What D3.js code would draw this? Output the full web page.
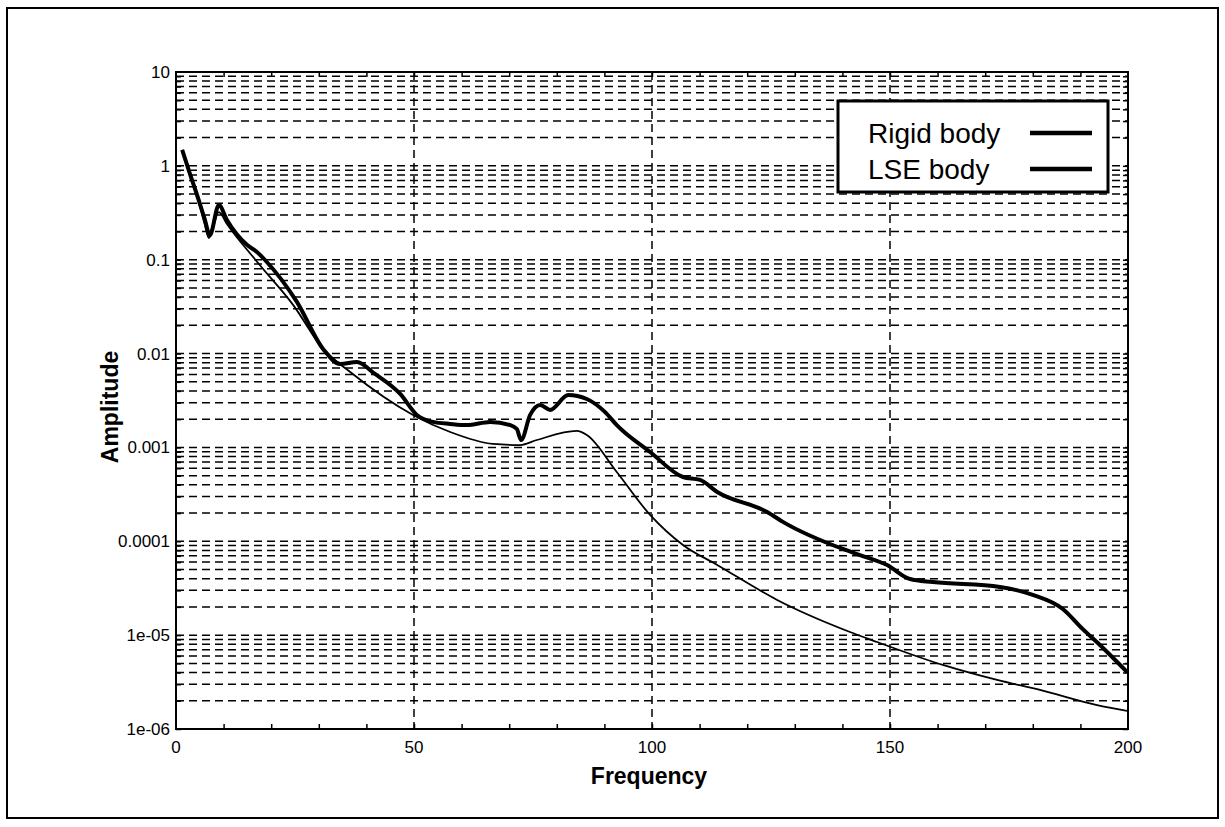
<!DOCTYPE html>
<html>
<head>
<meta charset="utf-8">
<script src="https://cdn.jsdelivr.net/npm/d3@7"></script>
<style>
  body { margin: 0; background: #fff; }
  text { font-family: "Liberation Sans", Arial, sans-serif; fill: #000; }
  .grid { stroke: #000; stroke-width: 1.5; stroke-dasharray: 8,5; fill: none; }
  .frame { stroke: #000; stroke-width: 2; fill: none; }
</style>
</head>
<body>
<script>
// Data (frequency, amplitude)
var lseFreq = [1.3, 3.0, 4.2, 6.0, 7.1, 9.0, 10.7, 14.9, 17.0, 18.7, 25.4, 30.9, 34.5, 38.0, 41.8, 47.1, 50.6, 54.0,
  57.6, 61.1, 66.0, 70.2, 71.6, 72.5, 74.4, 76.5, 78.6, 82.4, 86.3, 90.1, 92.6, 99.6, 106.5, 110.1, 113.7,
  124.2, 127.5, 140.1, 143.7, 149.4, 154.2, 159.0, 173.1, 180.0, 186.3, 190.5, 194.1, 199.8];
var lseAmp = [1.48, 0.80, 0.53, 0.274, 0.183, 0.383, 0.265, 0.144, 0.121, 0.0993, 0.0355, 0.0112, 0.00774, 0.00813,
  0.00606, 0.00371, 0.00222, 0.00187, 0.00178, 0.00173, 0.00187, 0.00173, 0.00157, 0.0012, 0.00222, 0.00283, 0.00251,
  0.00362, 0.00328, 0.00239, 0.00173, 0.000894, 0.000484, 0.00045, 0.000335, 0.000205, 0.000161, 8.28e-5,
  7.14e-5, 5.58e-5, 3.96e-5, 3.68e-5, 3.26e-5, 2.68e-5, 1.90e-5, 1.16e-5, 7.85e-6, 4.05e-6];

var rigidFreq = [1.3, 3.0, 4.2, 6.0, 6.9, 9.0, 10.7, 17.6, 24.6, 30.9, 36.6, 49.8, 57.6, 66.6, 72.3, 75.8, 84.2, 86.3,
  92.6, 99.6, 106.5, 113.7, 126.3, 141.6, 147.3, 161.1, 172.5, 181.5, 193.5, 199.8];
var rigidAmp = [1.48, 0.80, 0.53, 0.242, 0.170, 0.322, 0.240, 0.0879, 0.033, 0.0112, 0.00637, 0.00222, 0.00146,
  0.00109, 0.00106, 0.0012, 0.0015, 0.00136, 0.000547, 0.000191, 9.14e-5, 5.6e-5, 2.37e-5, 1.08e-5, 8.45e-6,
  4.81e-6, 3.33e-6, 2.61e-6, 1.80e-6, 1.56e-6];

var xTickValues = [0, 50, 100, 150, 200];
var yTickValues = [10, 1, 0.1, 0.01, 0.001, 0.0001, 1e-5, 1e-6];
var yTickLabels = ["10", "1", "0.1", "0.01", "0.001", "0.0001", "1e-05", "1e-06"];
var seriesNames = ["Rigid body", "LSE body"];

var width = 1225, height = 827;
var plotLeft = 176, plotRight = 1128, plotTop = 72, plotBottom = 729;

var svg = d3.select("body").append("svg")
    .attr("width", width)
    .attr("height", height);

// outer frame
svg.append("rect")
    .attr("class", "frame")
    .attr("x", 7).attr("y", 8)
    .attr("width", 1211).attr("height", 810);

var x = d3.scaleLinear().domain([0, 200]).range([plotLeft, plotRight]);
var y = d3.scaleLog().domain([1e-6, 10]).range([plotBottom, plotTop]);

// minor values 1..9 per decade
var minorY = [];
for (var k = -6; k <= 0; k++) {
  for (var m = 1; m <= 9; m++) {
    minorY.push(m * Math.pow(10, k));
  }
}
var minorX = d3.range(10, 200, 10);

// horizontal dashed grid
svg.selectAll(".hgrid")
    .data(minorY.filter(function(d) { return d > 1e-6; }))
    .enter()
    .append("line")
    .attr("class", "grid")
    .attr("x1", plotLeft).attr("x2", plotRight)
    .attr("y1", function(d) { return y(d); })
    .attr("y2", function(d) { return y(d); });

// vertical dashed grid
svg.selectAll(".vgrid")
    .data([50, 100, 150])
    .enter()
    .append("line")
    .attr("class", "grid")
    .attr("x1", function(d) { return x(d); })
    .attr("x2", function(d) { return x(d); })
    .attr("y1", plotTop).attr("y2", plotBottom);

// axes: ticks pointing inward on all four sides
function noDomain(g) { g.select(".domain").remove(); }
svg.append("g")
    .attr("transform", "translate(0," + plotBottom + ")")
    .call(d3.axisBottom(x).tickValues(minorX).tickSize(-5).tickFormat(""))
    .call(noDomain);
svg.append("g")
    .attr("transform", "translate(0," + plotTop + ")")
    .call(d3.axisTop(x).tickValues(minorX).tickSize(-5).tickFormat(""))
    .call(noDomain);
svg.append("g")
    .attr("transform", "translate(" + plotLeft + ",0)")
    .call(d3.axisLeft(y).tickValues(minorY).tickSize(-5).tickFormat(""))
    .call(noDomain);
svg.append("g")
    .attr("transform", "translate(" + plotRight + ",0)")
    .call(d3.axisRight(y).tickValues(minorY).tickSize(-5).tickFormat(""))
    .call(noDomain);
svg.selectAll(".tick line").attr("stroke", "#000").attr("stroke-width", 1.5);

// plot box
svg.append("rect")
    .attr("x", plotLeft).attr("y", plotTop)
    .attr("width", plotRight - plotLeft).attr("height", plotBottom - plotTop)
    .attr("fill", "none").attr("stroke", "#000").attr("stroke-width", 2);

// tick labels
svg.selectAll(".xlab")
    .data(xTickValues)
    .enter()
    .append("text")
    .attr("x", function(d) { return x(d); })
    .attr("y", plotBottom + 24)
    .attr("text-anchor", "middle")
    .style("font-size", "17px")
    .text(function(d) { return d; });

svg.selectAll(".ylab")
    .data(yTickValues)
    .enter()
    .append("text")
    .attr("x", plotLeft - 6)
    .attr("y", function(d) { return y(d) + 6; })
    .attr("text-anchor", "end")
    .style("font-size", "17px")
    .text(function(d, i) { return yTickLabels[i]; });

// axis titles
svg.append("text")
    .attr("x", 649).attr("y", 784)
    .attr("text-anchor", "middle")
    .style("font-size", "23px").style("font-weight", "bold")
    .text("Frequency");

svg.append("text")
    .attr("transform", "translate(118,407) rotate(-90)")
    .attr("text-anchor", "middle")
    .style("font-size", "23px").style("font-weight", "bold")
    .text("Amplitude");

// curves
var smoothLine = d3.line()
    .curve(d3.curveMonotoneX)
    .x(function(d) { return x(d[0]); })
    .y(function(d) { return y(d[1]); });

svg.append("path")
    .datum(d3.zip(rigidFreq, rigidAmp))
    .attr("d", smoothLine)
    .attr("fill", "none").attr("stroke", "#000")
    .attr("stroke-width", 1.8).attr("stroke-linejoin", "round");

svg.append("path")
    .datum(d3.zip(lseFreq, lseAmp))
    .attr("d", smoothLine)
    .attr("fill", "none").attr("stroke", "#000")
    .attr("stroke-width", 4).attr("stroke-linejoin", "round");

// legend
var legend = svg.append("g");
legend.append("rect")
    .attr("x", 838).attr("y", 101)
    .attr("width", 270).attr("height", 91)
    .attr("fill", "#fff").attr("stroke", "#000").attr("stroke-width", 3);

legend.selectAll(".legText")
    .data(seriesNames)
    .enter()
    .append("text")
    .attr("x", 868)
    .attr("y", function(d, i) { return 143 + i * 36; })
    .style("font-size", "28px")
    .text(function(d) { return d; });

legend.selectAll(".legLine")
    .data(seriesNames)
    .enter()
    .append("line")
    .attr("x1", 1030).attr("x2", 1092)
    .attr("y1", function(d, i) { return 133 + i * 36; })
    .attr("y2", function(d, i) { return 133 + i * 36; })
    .attr("stroke", "#000").attr("stroke-width", 4.5);
</script>
</body>
</html>
